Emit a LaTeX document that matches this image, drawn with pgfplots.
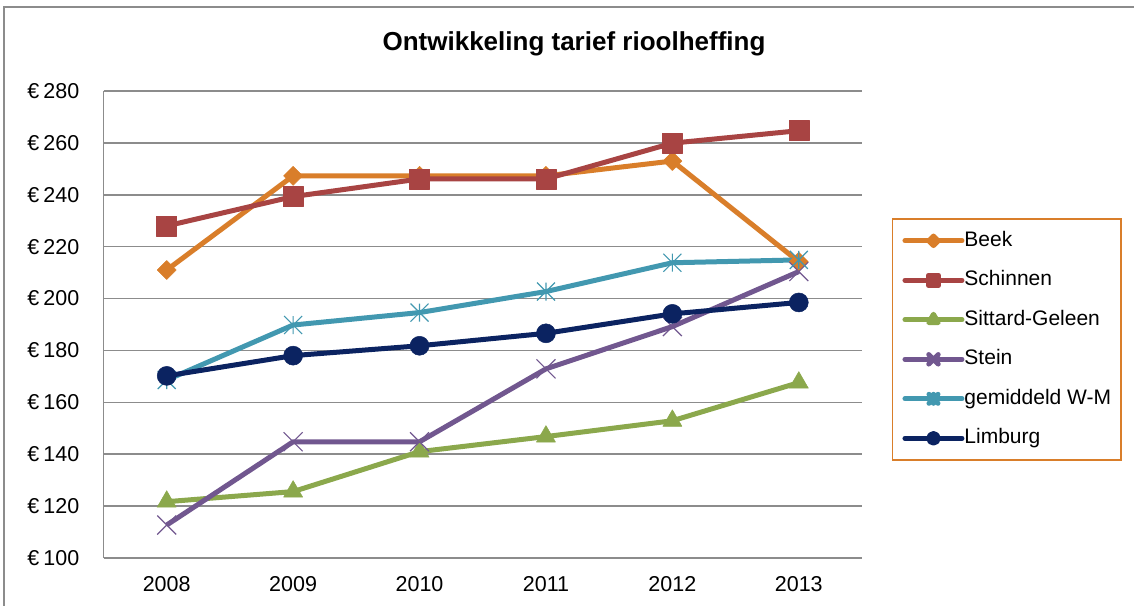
\documentclass[border=0pt]{standalone}
\usepackage{pgfplots}
\pgfplotsset{compat=1.18}
\usepackage{fontspec}
\setmainfont{Liberation Sans}

\definecolor{cBeek}{HTML}{D97E2A}
\definecolor{cSchinnen}{HTML}{A84443}
\definecolor{cSittard}{HTML}{8BA84C}
\definecolor{cStein}{HTML}{71578F}
\definecolor{cWM}{HTML}{4298B0}
\definecolor{cLimburg}{HTML}{0B2361}
\definecolor{gridgray}{HTML}{8C8C8C}

% Excel-like marks
\pgfdeclareplotmark{xldiamond}{%
  \pgfpathmoveto{\pgfqpoint{0pt}{\pgfplotmarksize}}%
  \pgfpathlineto{\pgfqpoint{\pgfplotmarksize}{0pt}}%
  \pgfpathlineto{\pgfqpoint{0pt}{-\pgfplotmarksize}}%
  \pgfpathlineto{\pgfqpoint{-\pgfplotmarksize}{0pt}}%
  \pgfpathclose\pgfusepathqfillstroke}
\pgfdeclareplotmark{xlstar}{%
  \pgfpathmoveto{\pgfqpoint{0pt}{-\pgfplotmarksize}}%
  \pgfpathlineto{\pgfqpoint{0pt}{\pgfplotmarksize}}%
  \pgfpathmoveto{\pgfqpoint{-\pgfplotmarksize}{-\pgfplotmarksize}}%
  \pgfpathlineto{\pgfqpoint{\pgfplotmarksize}{\pgfplotmarksize}}%
  \pgfpathmoveto{\pgfqpoint{-\pgfplotmarksize}{\pgfplotmarksize}}%
  \pgfpathlineto{\pgfqpoint{\pgfplotmarksize}{-\pgfplotmarksize}}%
  \pgfusepathqstroke}

\begin{document}
\begin{tikzpicture}
\useasboundingbox (0pt,0pt) rectangle (1134pt,605pt);
\draw[gridgray, line width=2pt] (4pt,-5pt) -- (4pt,598pt) -- (1140pt,598pt);
\node[font=\fontsize{26}{30}\selectfont\bfseries, anchor=base] at (574pt,554pt) {Ontwikkeling tarief rioolheffing};

\begin{axis}[
    at={(103.5pt,47pt)}, anchor=south west,
    width=758.5pt, height=467pt, scale only axis,
    xmin=-0.5, xmax=5.5, ymin=100, ymax=280,
    xtick={0,1,2,3,4,5},
    xticklabels={2008,2009,2010,2011,2012,2013},
    ytick={100,120,...,280},
    yticklabel={€\kern4pt\pgfmathprintnumber{\tick}},
    /pgf/number format/assume math mode=true,
    ymajorgrids,
    major grid style={gridgray, line width=1.5pt},
    axis lines*=left,
    axis line style={gridgray, line width=1.5pt},
    major tick length=0pt,
    tick label style={font=\fontsize{21.5}{25}\selectfont, inner sep=0pt},
    yticklabel style={anchor=east, xshift=-24pt},
    xticklabel style={anchor=north, yshift=-18pt},
    every axis plot/.append style={line width=5pt, line join=round},
    legend style={
        at={(1.0392,0.7274)}, anchor=north west,
        draw=cBeek, line width=1.5pt,
        font=\fontsize{21}{25}\selectfont,
        inner xsep=10pt, inner ysep=12pt,
        row sep=20pt,
        nodes={inner sep=0pt, text height=15pt, text depth=4.5pt},
        /tikz/every even column/.append style={column sep=5pt},
    },
    legend cell align=left,
    legend image code/.code={%
        \draw[mark repeat=2, mark phase=2, line cap=round, #1, mark options={scale=0.5}]
        plot coordinates {(0pt,0pt) (28.5pt,0pt) (57pt,0pt)};},
]
\addplot[cBeek, mark=xldiamond, mark size=9.5pt, mark options={line width=0.5pt, fill=cBeek}] coordinates {
(0,211.0) (1,247.3) (2,247.3) (3,247.3) (4,253.0) (5,214.2)
};
\addlegendentry{Beek}
\addplot[cSchinnen, mark=square*, mark size=10pt, mark options={line width=0.5pt, fill=cSchinnen}] coordinates {
(0,228.0) (1,239.3) (2,246.1) (3,246.1) (4,259.9) (5,264.7)
};
\addlegendentry{Schinnen}
\addplot[cSittard, mark=triangle*, mark size=11pt, mark options={line width=0.5pt, fill=cSittard}] coordinates {
(0,121.7) (1,125.6) (2,141.0) (3,146.8) (4,152.9) (5,167.6)
};
\addlegendentry{Sittard-Geleen}
\addplot[cStein, mark=x, mark size=13.4pt, mark options={line width=1.2pt}] coordinates {
(0,112.7) (1,144.8) (2,144.8) (3,172.9) (4,189.2) (5,210.4)
};
\addlegendentry{Stein}
\addplot[cWM, mark=xlstar, mark size=9pt, mark options={line width=1.2pt}] coordinates {
(0,168.6) (1,189.8) (2,194.6) (3,202.7) (4,213.8) (5,214.9)
};
\addlegendentry{gemiddeld W-M}
\addplot[cLimburg, mark=*, mark size=9.5pt, mark options={line width=0.5pt, fill=cLimburg}] coordinates {
(0,170.2) (1,178.0) (2,181.8) (3,186.6) (4,194.1) (5,198.5)
};
\addlegendentry{Limburg}
\end{axis}
\end{tikzpicture}
\end{document}
